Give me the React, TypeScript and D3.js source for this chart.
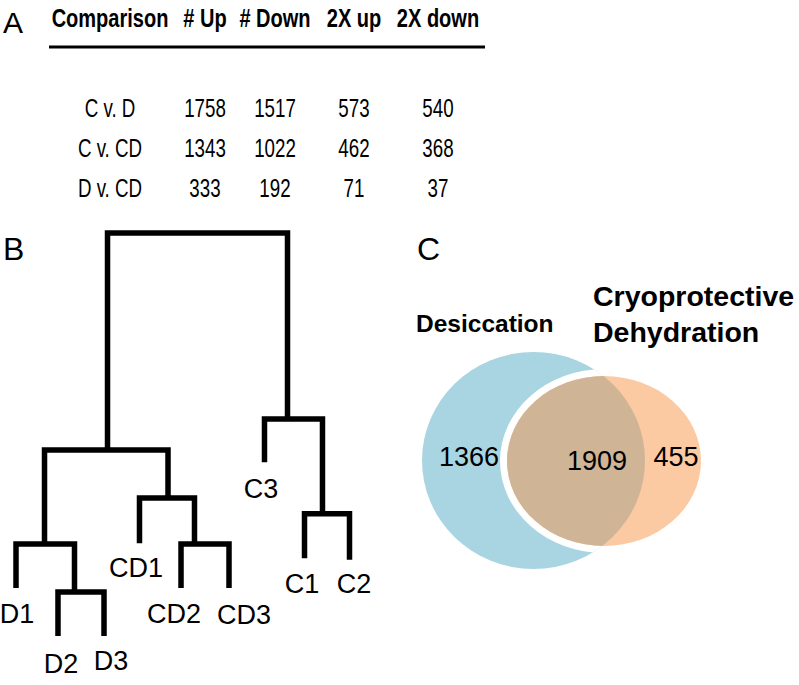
import React from "react";
import * as d3 from "d3";

// ---------- Panel A: table data ----------
const tableHeaders = ["Comparison", "# Up", "# Down", "2X up", "2X down"];
const comparisons = ["C v. D", "C v. CD", "D v. CD"];
const numUp = [1758, 1343, 333];
const numDown = [1517, 1022, 192];
const twoXUp = [573, 462, 71];
const twoXDown = [540, 368, 37];

// ---------- Panel B: dendrogram data ----------
const leafNames = ["D1", "D2", "D3", "CD1", "CD2", "CD3", "C3", "C1", "C2"];
const leafPos = [0, 12.59, 26.39, 37.03, 49.48, 63.87, 74.51, 86.51, 100];
const leafEnd = [0.128, 0.01, 0.01, 0.238, 0.128, 0.128, 0.437, 0.201, 0.197];
const mergeIds = ["D23", "Dc", "CD23", "CDc", "L", "C12", "R", "root"];
const mergeLeft = ["D2", "D1", "CD2", "CD1", "Dc", "C1", "C3", "L"];
const mergeRight = ["D3", "D23", "CD3", "CD23", "CDc", "C2", "C12", "R"];
const mergeHeight = [0.118, 0.236, 0.236, 0.349, 0.467, 0.31, 0.543, 1.0];
const mergePos = [17.54, 8.55, 53.52, 45.58, 27.44, 91.9, 81.41, 54.4];

// ---------- Panel C: Venn data ----------
const vennSetNames = ["Desiccation", "Cryoprotective Dehydration"];
const vennRegions = ["Desiccation only", "Both", "Cryoprotective Dehydration only"];
const vennValues = [1366, 1909, 455];

// ---------- layout (styles / positions) ----------
const FONT = "'Liberation Sans', Arial, Helvetica, sans-serif";
const TABLE_COL_X = [110, 205, 275, 354, 438];
const LABEL_NUDGE: Record<string, [number, number]> = {
  D1: [1, 35], D2: [3, 37], D3: [7, 34], CD1: [-3.5, 34], CD2: [-7, 35],
  CD3: [15, 36], C3: [-3.5, 36], C1: [-2.5, 35], C2: [4.5, 33],
};
const BLUE = "#a8d5e1";
const ORANGE = "#fbc9a2";
const TAN = "#cfb496";

export default function App() {
  // table scales
  const rowY = d3.scalePoint<string>().domain(comparisons).range([117, 197]);
  const columns = [comparisons.map(String), numUp.map(String), numDown.map(String), twoXUp.map(String), twoXDown.map(String)];

  // dendrogram scales
  const xS = d3.scaleLinear().domain([0, 100]).range([16, 349.5]);
  const yS = d3.scaleLinear().domain([0, 1]).range([640, 233]);
  const nodeX: Record<string, number> = {};
  const nodeY: Record<string, number> = {};
  leafNames.forEach((n, i) => { nodeX[n] = xS(leafPos[i]); nodeY[n] = yS(leafEnd[i]); });
  mergeIds.forEach((n, i) => { nodeX[n] = xS(mergePos[i]); nodeY[n] = yS(mergeHeight[i]); });
  const linkPaths = mergeIds.map((id, i) => {
    const l = mergeLeft[i], r = mergeRight[i];
    const p = d3.path();
    p.moveTo(nodeX[l], nodeY[l]);
    p.lineTo(nodeX[l], nodeY[id]);
    p.lineTo(nodeX[r], nodeY[id]);
    p.lineTo(nodeX[r], nodeY[r]);
    return p.toString();
  });

  // venn geometry
  const A = { cx: 533.5, cy: 460.5, rx: 111.5, ry: 108.5 };
  const B = { cx: 604, cy: 461, rx: 97, ry: 85 };
  const vennLabelPos: [number, number][] = [[469, 466], [597, 470], [676, 466]];

  return (
    <svg width={799} height={685} style={{ position: "absolute", left: 0, top: 0, display: "block", background: "#fff" }} fontFamily={FONT}>
      <rect width={799} height={685} fill="#fff" />
      {/* Panel letters */}
      <text x={3} y={33} fontSize={30}>A</text>
      <text x={3} y={260} fontSize={32}>B</text>
      <text x={417} y={260} fontSize={32}>C</text>

      {/* Panel A table */}
      {tableHeaders.map((h, i) => (
        <text key={h} transform={`translate(${TABLE_COL_X[i]},27) scale(0.77,1)`} textAnchor="middle" fontSize={26} fontWeight="bold">{h}</text>
      ))}
      <line x1={49} x2={485} y1={47} y2={47} stroke="#000" strokeWidth={3.2} />
      {columns.map((col, ci) => col.map((v, ri) => (
        <text key={`${ci}-${ri}`} transform={`translate(${TABLE_COL_X[ci]},${rowY(comparisons[ri])}) scale(0.75,1)`} textAnchor="middle" fontSize={25}>{v}</text>
      )))}

      {/* Panel B dendrogram */}
      <g fill="none" stroke="#000" strokeWidth={5.5} strokeLinejoin="miter" strokeLinecap="butt">
        {linkPaths.map((d, i) => <path key={mergeIds[i]} d={d} />)}
      </g>
      {leafNames.map((n) => (
        <text key={n} x={nodeX[n] + LABEL_NUDGE[n][0]} y={nodeY[n] + LABEL_NUDGE[n][1]} textAnchor="middle" fontSize={27}>{n}</text>
      ))}

      {/* Panel C venn */}
      <defs>
        <clipPath id="clipA">
          <ellipse cx={A.cx} cy={A.cy} rx={A.rx} ry={A.ry} />
        </clipPath>
      </defs>
      <ellipse cx={A.cx} cy={A.cy} rx={A.rx} ry={A.ry} fill={BLUE} />
      <ellipse cx={B.cx} cy={B.cy} rx={B.rx + 7} ry={B.ry + 7} fill="#fff" clipPath="url(#clipA)" />
      <ellipse cx={B.cx} cy={B.cy} rx={B.rx} ry={B.ry} fill={ORANGE} />
      <ellipse cx={B.cx} cy={B.cy} rx={B.rx} ry={B.ry} fill={TAN} clipPath="url(#clipA)" />
      {vennValues.map((v, i) => (
        <text key={vennRegions[i]} x={vennLabelPos[i][0]} y={vennLabelPos[i][1]} textAnchor="middle" fontSize={27}>{v}</text>
      ))}
      <text x={416} y={332} fontSize={24.5} fontWeight="bold">{vennSetNames[0]}</text>
      <text x={593} y={306} fontSize={28.5} fontWeight="bold">{vennSetNames[1].split(" ")[0]}</text>
      <text x={593} y={342} fontSize={28.5} fontWeight="bold">{vennSetNames[1].split(" ")[1]}</text>
    </svg>
  );
}
